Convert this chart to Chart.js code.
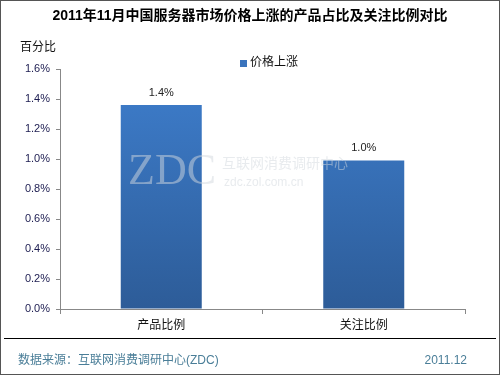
<!doctype html>
<html>
<head>
<meta charset="UTF-8" />
<title>服务器价格上涨产品占比</title>
<script src="https://cdn.jsdelivr.net/npm/chart.js"></script>
<style>
  html, body { margin: 0; padding: 0; background: #fff; }
  #wrap { width: 500px; height: 375px; position: relative; }
</style>
</head>
<body>
<div id="wrap"><canvas id="myChart" width="500" height="375"></canvas></div>
<script>
// data
var categories = ['产品比例', '关注比例'];
var seriesName = '价格上涨';
var values = [1.36, 0.99];          // percent
var valueLabels = ['1.4%', '1.0%'];
var yTicks = [0, 0.2, 0.4, 0.6, 0.8, 1.0, 1.2, 1.4, 1.6];

var titleText = '2011年11月中国服务器市场价格上涨的产品占比及关注比例对比';
var yAxisTitle = '百分比';
var sourceText = '数据来源：互联网消费调研中心(ZDC)';
var dateText = '2011.12';

var FONT = '"Liberation Sans", Arial, "Noto Sans CJK SC", sans-serif';

var ctx = document.getElementById('myChart').getContext('2d');

// draws the title, legend, labels, footer, watermark and frame
var decor = {
    id: 'decor',
    afterDatasetsDraw: function(chart) {
        var c = chart.ctx;
        c.save();

        // watermark
        c.fillStyle = 'rgba(210,215,222,0.5)';
        c.font = '44px "Liberation Serif", "DejaVu Serif", serif';
        c.textBaseline = 'alphabetic';
        c.textAlign = 'left';
        c.fillText('ZDC', 128, 184);
        c.font = '14px ' + FONT;
        c.fillText('互联网消费调研中心', 222, 168);
        c.font = '12px ' + FONT;
        c.fillText('zdc.zol.com.cn', 224, 186);

        // value labels above the bars
        var meta = chart.getDatasetMeta(0);
        c.fillStyle = '#222';
        c.font = '11px ' + FONT;
        c.textAlign = 'center';
        c.textBaseline = 'bottom';
        meta.data.forEach(function(bar, i) {
            c.fillText(valueLabels[i], bar.x, bar.y - 7);
        });

        // title
        c.fillStyle = '#000';
        c.font = 'bold 14px ' + FONT;
        c.textBaseline = 'middle';
        c.fillText(titleText, 250, 16);

        // axis name
        c.font = '12px ' + FONT;
        c.textAlign = 'left';
        c.fillStyle = '#111';
        c.fillText(yAxisTitle, 20, 48);

        // legend
        c.fillStyle = '#3a74bd';
        c.fillRect(240, 60, 7, 7);
        c.fillStyle = '#111';
        c.fillText(seriesName, 250, 63);

        // footer
        c.strokeStyle = '#000';
        c.lineWidth = 1;
        c.beginPath();
        c.moveTo(4, 338.5);
        c.lineTo(496, 338.5);
        c.stroke();
        c.fillStyle = '#4a7e98';
        c.font = '12px ' + FONT;
        c.fillText(sourceText, 18, 361);
        c.textAlign = 'right';
        c.fillText(dateText, 467, 361);

        // frame
        c.strokeStyle = '#555';
        c.strokeRect(0.5, 0.5, 499, 374);
        c.restore();
    }
};

function barGradient(context) {
    var area = context.chart.chartArea;
    if (!area) return '#3a74bd';
    var g = context.chart.ctx.createLinearGradient(0, area.top, 0, area.bottom);
    g.addColorStop(0, '#3e7ecd');
    g.addColorStop(1, '#2d5c98');
    return g;
}

var myChart = new Chart(ctx, {
    type: 'bar',
    data: {
        labels: categories,
        datasets: [{
            label: seriesName,
            data: values,
            backgroundColor: barGradient,
            borderWidth: 0,
            categoryPercentage: 1,
            barPercentage: 0.4
        }]
    },
    options: {
        responsive: false,
        animation: false,
        layout: { padding: { left: 0, right: 35, top: 69, bottom: 36 } },
        plugins: {
            legend: { display: false },
            title: { display: false },
            tooltip: { enabled: false }
        },
        scales: {
            x: {
                grid: { display: true, drawOnChartArea: false, drawTicks: true, tickLength: 5, color: '#888', offset: true },
                border: { color: '#888' },
                ticks: { color: '#111', font: { size: 12, family: FONT }, padding: 4 },
                afterFit: function(scale) { scale.height = 30; }
            },
            y: {
                min: 0,
                max: 1.6,
                afterBuildTicks: function(scale) {
                    scale.ticks = yTicks.map(function(v) { return { value: v }; });
                },
                grid: { display: true, drawOnChartArea: false, drawTicks: true, tickLength: 4, color: '#888' },
                border: { color: '#888' },
                ticks: {
                    color: '#1c1c50',
                    font: { size: 11, family: FONT },
                    padding: 6,
                    callback: function(v) { return v.toFixed(1) + '%'; }
                },
                afterFit: function(scale) { scale.width = 60; }
            }
        }
    },
    plugins: [decor]
});
</script>
</body>
</html>
